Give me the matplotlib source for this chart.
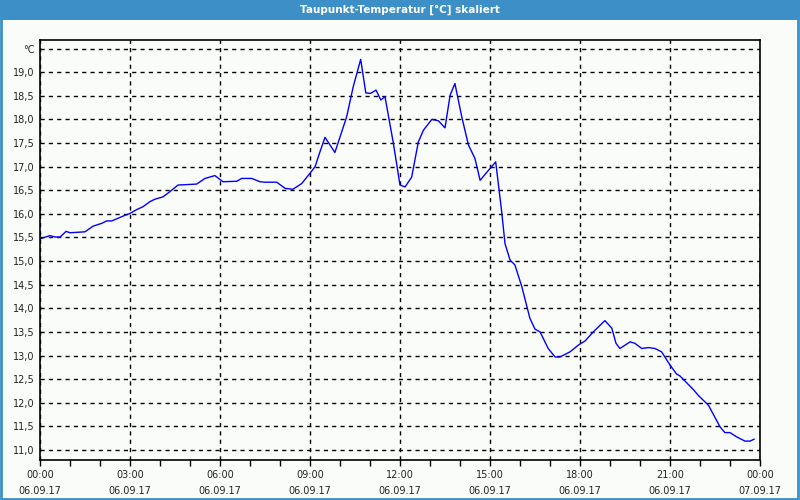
import matplotlib
matplotlib.use("Agg")
import matplotlib.pyplot as plt
from matplotlib.patches import Rectangle
from matplotlib.ticker import FixedLocator, MultipleLocator

# Stunden seit 06.09.17 00:00 und Taupunkt in °C
hours = [0.0, 0.33, 0.5, 0.67, 0.87, 1.0, 1.5, 1.77, 2.06, 2.22, 2.39, 2.72,
         3.0, 3.22, 3.43, 3.67, 3.83, 4.1, 4.33, 4.6, 5.22, 5.5, 5.83, 6.1,
         6.56, 6.72, 7.06, 7.33, 7.5, 7.89, 8.17, 8.43, 8.72, 9.0, 9.17, 9.33,
         9.5, 9.83, 10.22, 10.44, 10.69, 10.86, 11.02, 11.2, 11.36, 11.5, 11.78,
         12.0, 12.17, 12.39, 12.61, 12.78, 13.06, 13.28, 13.5, 13.67, 13.83,
         14.06, 14.28, 14.5, 14.67, 15.0, 15.19, 15.39, 15.5, 15.67, 15.83,
         16.06, 16.33, 16.5, 16.67, 16.94, 17.17, 17.33, 17.67, 17.94, 18.17,
         18.44, 18.83, 19.06, 19.2, 19.33, 19.67, 19.83, 20.06, 20.28, 20.5,
         20.72, 21.0, 21.22, 21.33, 21.78, 21.94, 22.28, 22.67, 22.83, 23.0,
         23.22, 23.5, 23.67, 23.8]
dewpoint = [15.47, 15.54, 15.51, 15.51, 15.63, 15.60, 15.62, 15.74, 15.80, 15.85,
            15.85, 15.94, 16.01, 16.09, 16.15, 16.26, 16.31, 16.36, 16.47, 16.61,
            16.63, 16.75, 16.81, 16.68, 16.69, 16.75, 16.75, 16.68, 16.67, 16.67,
            16.54, 16.52, 16.64, 16.86, 17.0, 17.31, 17.62, 17.30, 18.05, 18.69,
            19.27, 18.56, 18.55, 18.62, 18.41, 18.48, 17.49, 16.61, 16.57, 16.78,
            17.52, 17.77, 18.0, 17.97, 17.82, 18.51, 18.76, 18.05, 17.46, 17.17,
            16.71, 16.96, 17.10, 16.04, 15.37, 15.02, 14.92, 14.46, 13.79, 13.56,
            13.50, 13.15, 12.97, 12.97, 13.08, 13.22, 13.31, 13.50, 13.74, 13.58,
            13.26, 13.15, 13.29, 13.26, 13.15, 13.17, 13.15, 13.08, 12.80, 12.61,
            12.57, 12.28, 12.16, 11.95, 11.49, 11.37, 11.37, 11.28, 11.19, 11.19,
            11.23]

x_ticks = [0, 3, 6, 9, 12, 15, 18, 21, 24]
x_labels = ["00:00\n06.09.17", "03:00\n06.09.17", "06:00\n06.09.17",
            "09:00\n06.09.17", "12:00\n06.09.17", "15:00\n06.09.17",
            "18:00\n06.09.17", "21:00\n06.09.17", "00:00\n07.09.17"]
y_ticks = [11.0, 11.5, 12.0, 12.5, 13.0, 13.5, 14.0, 14.5, 15.0, 15.5,
           16.0, 16.5, 17.0, 17.5, 18.0, 18.5, 19.0, 19.5]
y_labels = [f"{v:.1f}".replace(".", ",") for v in y_ticks[:-1]] + ["°C"]

BLUE = "#3d8fc7"
BG = "#fafcfa"

fig = plt.figure(figsize=(8, 5), dpi=100, facecolor=BG)

# Titelleiste und Rahmen
fig.patches.append(Rectangle((0, 0.96), 1, 0.04, transform=fig.transFigure,
                             facecolor=BLUE, edgecolor="none", zorder=0))
fig.patches.append(Rectangle((0.001, 0.002), 0.997, 0.996, transform=fig.transFigure,
                             facecolor="none", edgecolor=BLUE, lw=2, zorder=1))
fig.text(0.5, 0.98, "Taupunkt-Temperatur [°C] skaliert", color="white",
         ha="center", va="center", fontsize=7.5, fontweight="bold")

ax = fig.add_axes([0.05, 0.08, 0.90, 0.84])
ax.set_facecolor(BG)
ax.plot(hours, dewpoint, color="#0000ff", lw=1)

ax.set_xlim(0, 24)
ax.set_ylim(10.79, 19.68)

ax.xaxis.set_major_locator(FixedLocator(x_ticks))
ax.set_xticklabels(x_labels, fontsize=7, color="#222222", linespacing=1.75)
ax.xaxis.set_minor_locator(MultipleLocator(1))
ax.tick_params(axis="x", which="both", direction="out", length=4, width=1,
               color="black", pad=3)

ax.set_yticks(y_ticks)
ax.set_yticklabels(y_labels, fontsize=7, color="#222222")
ax.tick_params(axis="y", length=0, pad=4)

ax.grid(True, which="major", color="black", linestyle=(0, (3, 3)), lw=1)
for s in ax.spines.values():
    s.set_color("black")
    s.set_linewidth(1.2)

fig.savefig("out.png", dpi=100, facecolor=BG)
